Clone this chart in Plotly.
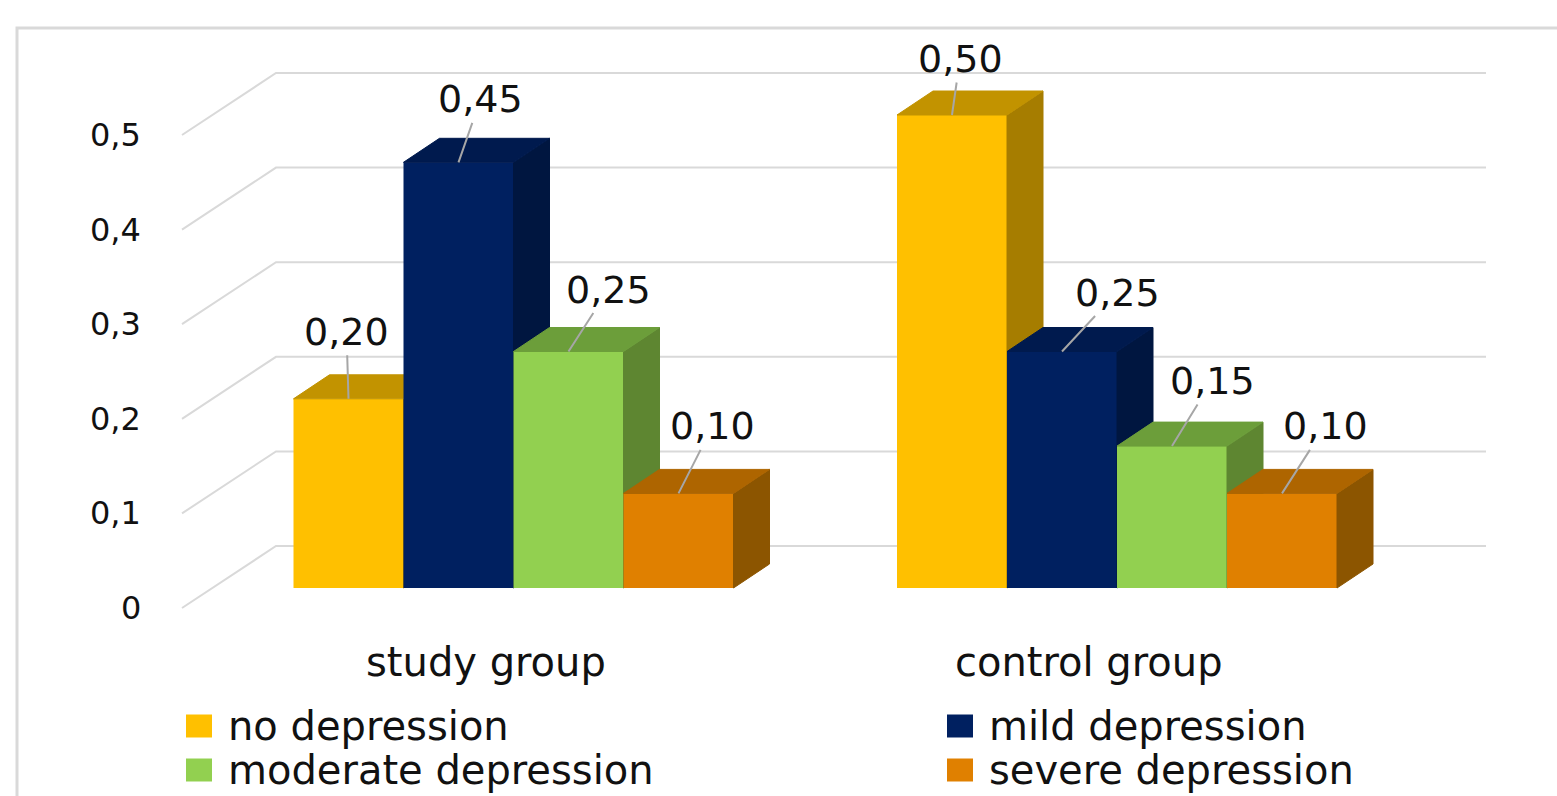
import plotly.graph_objects as go

# ---- data -------------------------------------------------------------
groups = ["study group", "control group"]
series_names = ["no depression", "mild depression", "moderate depression", "severe depression"]
no_depression = [0.20, 0.50]
mild_depression = [0.45, 0.25]
moderate_depression = [0.25, 0.15]
severe_depression = [0.10, 0.10]
y_ticks = [0, 0.1, 0.2, 0.3, 0.4, 0.5]
y_tick_labels = ["0", "0,1", "0,2", "0,3", "0,4", "0,5"]

series_values = [no_depression, mild_depression, moderate_depression, severe_depression]

# ---- styling ----------------------------------------------------------
FONT = "DejaVu Sans"
TEXT = "#111111"
GRID = "#D9D9D9"
# (front, top, side) shades for each series
shades = [
    ("#FFC000", "#C29300", "#A67D00"),
    ("#002060", "#001A4E", "#001640"),
    ("#92D050", "#6C9E3A", "#5E8631"),
    ("#E08000", "#AE6500", "#8C5500"),
]
# leader-line offsets (px) from the bar top to the value text
label_offsets = [
    [(-2, -67), (8, -56)],
    [(22, -63), (55, -59)],
    [(40, -62), (40, -65)],
    [(34, -67), (43, -67)],
]

W, H = 1557, 796
X0, XS = 513.5, 603.5   # px of the first category centre, px per category step
Y0, YS = 588.0, 946.0   # px of value 0 on the bar fronts, px per unit value


def dx(px):
    return px / XS


def dy(px):
    return px / YS


x_range = [(0 - X0) / XS, (W - X0) / XS]
y_range = [(Y0 - H) / YS, Y0 / YS]

BW = dx(110)             # bar width
DX, DY = dx(36), dy(24)  # bar depth
n_series = len(series_values)

fig = go.Figure()

# ---- walls: back-wall gridlines and side-wall diagonals ----------------
wall_back = dy(42)
wall_left, wall_right, wall_front = dx(276 - X0), dx(1486 - X0), dx(182 - X0)
front_drop = dy(20)
for t in y_ticks:
    fig.add_trace(go.Scatter(
        x=[wall_front, wall_left, wall_right],
        y=[t - front_drop, t + wall_back, t + wall_back],
        mode="lines", line=dict(color=GRID, width=2),
        hoverinfo="skip", showlegend=False, xaxis="x", yaxis="y"))

# ---- bars: one overlaid subplot per series so later series sit in front -
xcat = list(range(len(groups)))
for s, vals in enumerate(series_values):
    front, top, side = shades[s]
    ax_id = str(s + 2)
    offset = -n_series * BW / 2 + s * BW
    fig.add_trace(go.Bar(
        x=xcat, y=vals, width=BW, offset=offset, name=series_names[s],
        marker=dict(color=front, line=dict(width=0)),
        showlegend=False, xaxis="x" + ax_id, yaxis="y" + ax_id))
    for g, v in enumerate(vals):
        left = g + offset
        right = left + BW
        # right side face
        fig.add_trace(go.Scatter(
            x=[right, right, right + DX, right + DX, right],
            y=[0, v, v + DY, DY, 0],
            mode="lines", fill="toself", fillcolor=side,
            line=dict(color=side, width=1),
            hoverinfo="skip", showlegend=False,
            xaxis="x" + ax_id, yaxis="y" + ax_id))
        # top face
        fig.add_trace(go.Scatter(
            x=[left, right, right + DX, left + DX, left],
            y=[v, v, v + DY, v + DY, v],
            mode="lines", fill="toself", fillcolor=top,
            line=dict(color=top, width=1),
            hoverinfo="skip", showlegend=False,
            xaxis="x" + ax_id, yaxis="y" + ax_id))

annotations = []

# value labels with leader lines
for s, vals in enumerate(series_values):
    offset = -n_series * BW / 2 + s * BW
    for g, v in enumerate(vals):
        ox, oy = label_offsets[s][g]
        annotations.append(dict(
            x=g + offset + BW / 2, y=v, xref="x", yref="y",
            text=f"{v:.2f}".replace(".", ","),
            showarrow=True, arrowhead=0, arrowwidth=2, arrowcolor="#A6A6A6",
            ax=ox, ay=oy, font=dict(family=FONT, size=38, color=TEXT)))

# value-axis tick labels at the front ends of the wall diagonals
for t, lab in zip(y_ticks, y_tick_labels):
    annotations.append(dict(
        x=dx(143 - X0), y=t - front_drop, xref="x", yref="y",
        text=lab, showarrow=False, xanchor="right", yanchor="middle",
        font=dict(family=FONT, size=32, color=TEXT)))

# category labels
for g, name in enumerate(groups):
    annotations.append(dict(
        x=g - dx(28), y=-dy(74), xref="x", yref="y",
        text=name, showarrow=False, xanchor="center", yanchor="middle",
        font=dict(family=FONT, size=40, color=TEXT)))

# legend: two columns, two rows
shapes = []
legend_cols = [186, 947]
legend_rows = [726, 770]
for s, name in enumerate(series_names):
    cx = legend_cols[s % 2]
    cy = legend_rows[s // 2]
    shapes.append(dict(
        type="rect", xref="paper", yref="paper",
        x0=cx / W, x1=(cx + 26) / W,
        y0=1 - (cy + 11.5) / H, y1=1 - (cy - 11.5) / H,
        fillcolor=shades[s][0], line=dict(width=0), layer="above"))
    annotations.append(dict(
        x=(cx + 40) / W, y=1 - cy / H, xref="paper", yref="paper",
        text=name, showarrow=False, xanchor="left", yanchor="middle",
        font=dict(family=FONT, size=40, color=TEXT)))

# chart frame (runs past the right and bottom edges)
shapes.append(dict(
    type="rect", xref="paper", yref="paper",
    x0=17 / W, x1=1.05, y0=-0.05, y1=1 - 28 / H,
    line=dict(color=GRID, width=3), fillcolor="rgba(0,0,0,0)", layer="below"))

axis_common = dict(visible=False, fixedrange=True)
layout = dict(
    width=W, height=H, margin=dict(l=0, r=0, t=0, b=0),
    paper_bgcolor="white", plot_bgcolor="rgba(0,0,0,0)",
    barmode="overlay", showlegend=False,
    annotations=annotations, shapes=shapes,
    xaxis=dict(range=x_range, **axis_common),
    yaxis=dict(range=y_range, **axis_common),
)
for s in range(n_series):
    k = str(s + 2)
    layout["xaxis" + k] = dict(range=x_range, overlaying="x", **axis_common)
    layout["yaxis" + k] = dict(range=y_range, overlaying="y", **axis_common)

fig.update_layout(**layout)
fig.write_html("out.html")
